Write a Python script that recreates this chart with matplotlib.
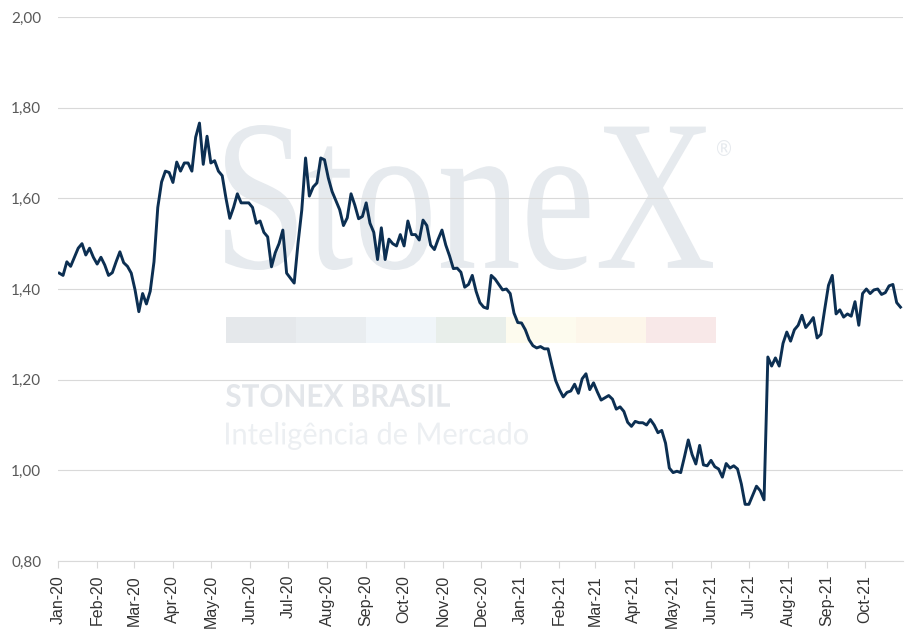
import numpy as np
import pandas as pd
import matplotlib
matplotlib.use('Agg')
import matplotlib.pyplot as plt
import matplotlib.dates as mdates
from matplotlib.textpath import TextPath
from matplotlib.patches import PathPatch, Rectangle
from matplotlib.font_manager import FontProperties
from matplotlib.transforms import Affine2D

# values, one every 3 days from 2 Jan 2020
price = [
    1.435, 1.43, 1.46, 1.45, 1.47, 1.49, 1.50, 1.475, 1.49, 1.47,
    1.455, 1.47, 1.453, 1.43, 1.436, 1.46, 1.482, 1.458, 1.45, 1.435,
    1.398, 1.35, 1.39, 1.367, 1.395, 1.46, 1.58, 1.636, 1.66, 1.657,
    1.635, 1.68, 1.66, 1.678, 1.678, 1.66, 1.735, 1.766, 1.675, 1.737,
    1.678, 1.683, 1.66, 1.65, 1.60, 1.556, 1.58, 1.61, 1.59, 1.59,
    1.59, 1.58, 1.545, 1.55, 1.525, 1.515, 1.449, 1.48, 1.50, 1.53,
    1.435, 1.424, 1.413, 1.50, 1.574, 1.689, 1.605, 1.625, 1.634, 1.689,
    1.685, 1.645, 1.615, 1.595, 1.575, 1.54, 1.557, 1.61, 1.585, 1.555,
    1.56, 1.59, 1.545, 1.525, 1.465, 1.535, 1.465, 1.51, 1.50, 1.495,
    1.52, 1.495, 1.55, 1.52, 1.52, 1.508, 1.552, 1.54, 1.497, 1.487,
    1.51, 1.53, 1.497, 1.473, 1.445, 1.446, 1.437, 1.404, 1.41, 1.43,
    1.395, 1.37, 1.36, 1.357, 1.43, 1.422, 1.41, 1.398, 1.40, 1.39,
    1.347, 1.326, 1.325, 1.31, 1.288, 1.275, 1.27, 1.273, 1.268, 1.268,
    1.232, 1.198, 1.178, 1.162, 1.172, 1.175, 1.19, 1.17, 1.202, 1.213,
    1.178, 1.193, 1.173, 1.155, 1.16, 1.165, 1.157, 1.135, 1.14, 1.13,
    1.106, 1.097, 1.108, 1.105, 1.105, 1.10, 1.112, 1.10, 1.083, 1.088,
    1.06, 1.005, 0.995, 0.998, 0.995, 1.03, 1.067, 1.035, 1.014, 1.055,
    1.012, 1.01, 1.022, 1.008, 1.003, 0.985, 1.015, 1.005, 1.01, 1.003,
    0.97, 0.925, 0.925, 0.945, 0.965, 0.955, 0.935, 1.25, 1.23, 1.248,
    1.23, 1.28, 1.305, 1.285, 1.31, 1.32, 1.342, 1.315, 1.325, 1.337,
    1.292, 1.30, 1.355, 1.408, 1.43, 1.345, 1.354, 1.338, 1.345, 1.34,
    1.372, 1.32, 1.39, 1.40, 1.39, 1.398, 1.40, 1.388, 1.392, 1.407,
    1.41, 1.37, 1.36]
dates = pd.date_range('2020-01-02', periods=len(price), freq='3D')

yticks = [0.8, 1.0, 1.2, 1.4, 1.6, 1.8, 2.0]
band_colors = ['#e5e8eb', '#e9edf0', '#f0f5f9', '#e8eeea',
               '#fdfbee', '#fdf6ea', '#f8e8e8']

W, H = 916, 638
fig = plt.figure(figsize=(W / 100, H / 100), dpi=100)
ax = fig.add_axes([58 / W, 1 - 561 / H, (903 - 58) / W, (561 - 17) / H])
px = Affine2D().scale(1 / W, 1 / H) + fig.transFigure


def fit_text(s, x0, ytop, x1, ybot, prop, color):
    # squeeze a text outline into a pixel box (top-left origin)
    tp = TextPath((0, 0), s, size=100, prop=prop)
    e = tp.get_extents()
    tr = (Affine2D().translate(-e.x0, -e.y0)
          .scale((x1 - x0) / e.width, (ybot - ytop) / e.height)
          .translate(x0, H - ybot))
    p = PathPatch(tr.transform_path(tp), transform=px, fc=color, ec='none',
                  zorder=0.2, clip_on=False)
    ax.add_patch(p)


# watermark
fit_text('StoneX', 225, 125, 713, 270,
         FontProperties(family='Liberation Serif'), '#e6eaee')
fit_text('®', 717, 140, 731, 156, FontProperties(family='DejaVu Sans'), '#e6eaee')
for i, c in enumerate(band_colors):
    ax.add_patch(Rectangle((226 + 70 * i, H - 343), 70, 26, transform=px,
                           fc=c, ec='none', zorder=0.2, clip_on=False))
fit_text('STONEX BRASIL', 226, 384, 450, 407,
         FontProperties(family='Lato', weight='bold'), '#e3e6ea')
fit_text('Inteligência de Mercado', 226, 422, 528, 450,
         FontProperties(family='Lato'), '#eceff2')

ax.plot(dates, price, color='#0c2f52', lw=2.1, zorder=3)

ax.set_ylim(0.8, 2.0)
ax.set_yticks(yticks)
ax.set_yticklabels([f'{v:.2f}'.replace('.', ',') for v in yticks],
                   fontsize=11, color='#595959', family='Lato')
ax.set_xlim(pd.Timestamp('2020-01-01'), pd.Timestamp('2021-10-31'))
ax.xaxis.set_major_locator(mdates.MonthLocator())
ax.xaxis.set_major_formatter(mdates.DateFormatter('%b-%y'))
plt.setp(ax.get_xticklabels(), rotation=90, fontsize=11.5, color='#333333',
         family='Liberation Sans')

ax.grid(axis='y', color='#d9d9d9', lw=0.8)
ax.set_axisbelow(True)
for s in ['top', 'right', 'left']:
    ax.spines[s].set_visible(False)
ax.spines['bottom'].set_color('#d9d9d9')
ax.tick_params(axis='y', length=0, pad=12)
ax.tick_params(axis='x', length=5, color='#d9d9d9', pad=5)

fig.savefig('out.png', dpi=100)
